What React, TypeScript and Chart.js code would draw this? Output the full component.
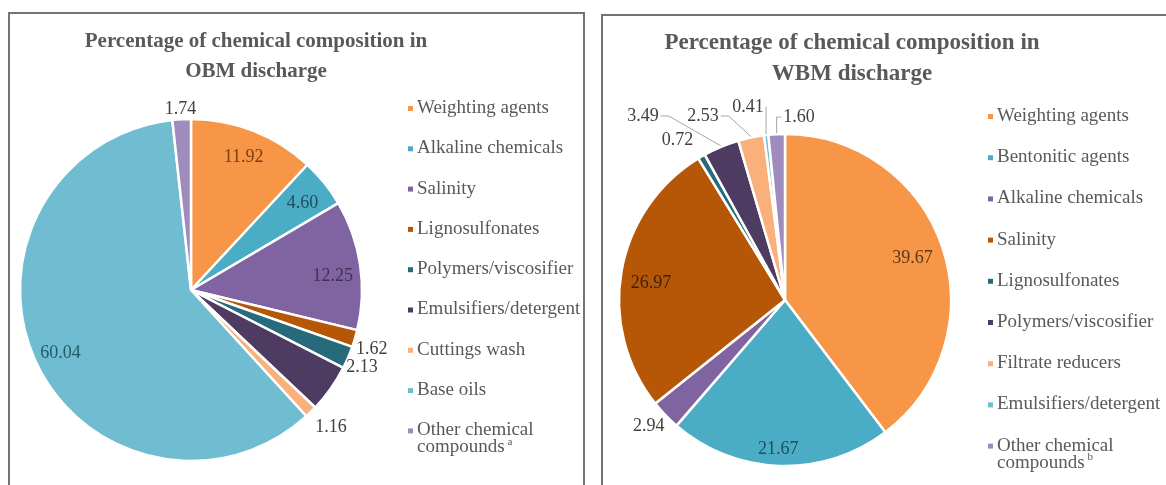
import React, { useEffect, useRef } from "react";
import { Chart, registerables } from "chart.js";

Chart.register(...registerables);

// ---------- data ----------
const obmCategories = [
  "Weighting agents",
  "Alkaline chemicals",
  "Salinity",
  "Lignosulfonates",
  "Polymers/viscosifier",
  "Emulsifiers/detergent",
  "Cuttings wash",
  "Base oils",
  "Other chemical compounds",
];
const obmValues = [11.92, 4.6, 12.25, 1.62, 2.13, 4.54, 1.16, 60.04, 1.74];
const obmFootnote = "a";
const obmTitle = ["Percentage of chemical composition in", "OBM discharge"];

const wbmCategories = [
  "Weighting agents",
  "Bentonitic agents",
  "Alkaline chemicals",
  "Salinity",
  "Lignosulfonates",
  "Polymers/viscosifier",
  "Filtrate reducers",
  "Emulsifiers/detergent",
  "Other chemical compounds",
];
const wbmValues = [39.67, 21.67, 2.94, 26.97, 0.72, 3.49, 2.53, 0.41, 1.6];
const wbmFootnote = "b";
const wbmTitle = ["Percentage of chemical composition in", "WBM discharge"];

// ---------- styles ----------
const palette = [
  "#F79646",
  "#4BACC6",
  "#8064A2",
  "#B65708",
  "#276A7C",
  "#4D3B62",
  "#F9B07A",
  "#70BCD1",
  "#9F8BBE",
];
const FONT = '"Liberation Serif", "Times New Roman", serif';
const LEGEND_SIZE = 19;

type Cfg = {
  categories: string[];
  values: number[];
  footnote: string;
  title: string[];
  radius: number;
  padding: { left: number; right: number; top: number; bottom: number };
  titleX: number;
  titleY: number;
  titleGap: number;
  titleSize: number;
  legendX: number;
  legendY: number;
  legendStep: number;
  legendWrap: number;
  labelMode: string[];
  labelRadius: number[];
  labelColor: string[];
  nudge: [number, number][];
  callout: ([number, number] | null)[];
};

const obmCfg: Cfg = {
  categories: obmCategories,
  values: obmValues,
  footnote: obmFootnote,
  title: obmTitle,
  radius: 171,
  padding: { left: 10, right: 221, top: 100, bottom: 19 },
  titleX: 246,
  titleY: 28,
  titleGap: 30,
  titleSize: 21,
  legendX: 407,
  legendY: 94,
  legendStep: 40.3,
  legendWrap: 172,
  labelMode: ["in", "in", "in", "out", "out", "none", "out", "in", "out"],
  labelRadius: [0.84, 0.83, 0.85, 0, 0, 0, 0, 0.85, 0],
  labelColor: ["#7A3F10", "#1F4E5C", "#3F3151", "#404040", "#404040", "#404040", "#404040", "#245B69", "#404040"],
  nudge: [[0, 1], [1, 2], [-2, 8], [-4, 7], [-6, 5], [0, 0], [5, 6], [2, 3], [0, 2]],
  callout: [null, null, null, null, null, null, null, null, null],
};

const wbmCfg: Cfg = {
  categories: wbmCategories,
  values: wbmValues,
  footnote: wbmFootnote,
  title: wbmTitle,
  radius: 166,
  padding: { left: 10, right: 210, top: 110, bottom: 11 },
  titleX: 248,
  titleY: 27,
  titleGap: 31,
  titleSize: 23,
  legendX: 393,
  legendY: 100,
  legendStep: 41.2,
  legendWrap: 168,
  labelMode: ["in", "in", "out", "in", "out", "callout", "callout", "callout", "callout"],
  labelRadius: [0.81, 0.885, 0, 0.82, 0, 0, 0, 0, 0],
  labelColor: ["#5A3A1E", "#1F4E5C", "#404040", "#3D2008", "#404040", "#404040", "#404040", "#404040", "#404040"],
  nudge: [[0, 1], [-2, 2], [-1, 3], [0, 7], [-13, -5], [0, 0], [0, 0], [0, 0], [0, 0]],
  callout: [null, null, null, null, null, [-142, -184], [-82, -184], [-37, -193], [14, -183]],
};

function wrapText(ctx: CanvasRenderingContext2D, text: string, maxW: number): string[] {
  const words = text.split(" ");
  const lines: string[] = [];
  let cur = "";
  for (const w of words) {
    const test = cur ? cur + " " + w : w;
    if (ctx.measureText(test).width > maxW && cur) {
      lines.push(cur);
      cur = w;
    } else cur = test;
  }
  if (cur) lines.push(cur);
  return lines;
}

function makePlugin(cfg: Cfg) {
  return {
    id: "panelDecor",
    afterDraw(chart: any) {
      const ctx: CanvasRenderingContext2D = chart.ctx;
      ctx.save();
      // title
      ctx.fillStyle = "#595959";
      ctx.font = `bold ${cfg.titleSize}px ${FONT}`;
      ctx.textAlign = "center";
      ctx.textBaseline = "middle";
      cfg.title.forEach((line, i) => {
        ctx.fillText(line, cfg.titleX, cfg.titleY + i * cfg.titleGap);
      });

      // legend
      ctx.font = `${LEGEND_SIZE}px ${FONT}`;
      ctx.textAlign = "left";
      ctx.textBaseline = "middle";
      cfg.categories.forEach((cat, i) => {
        const y = cfg.legendY + i * cfg.legendStep;
        ctx.fillStyle = palette[i];
        ctx.fillRect(cfg.legendX - 9, y - 2, 5, 5);
        ctx.fillStyle = "#595959";
        const lines = wrapText(ctx, cat, cfg.legendWrap);
        lines.forEach((ln, j) => {
          ctx.fillText(ln, cfg.legendX, y + j * 17);
        });
        if (i === cfg.categories.length - 1 && cfg.footnote) {
          const last = lines[lines.length - 1];
          const wLast = ctx.measureText(last).width;
          ctx.font = `11px ${FONT}`;
          ctx.fillText(cfg.footnote, cfg.legendX + wLast + 3, y + (lines.length - 1) * 17 - 5);
          ctx.font = `${LEGEND_SIZE}px ${FONT}`;
        }
      });

      // data labels
      const meta = chart.getDatasetMeta(0);
      ctx.font = `18px ${FONT}`;
      ctx.textAlign = "center";
      ctx.textBaseline = "middle";
      meta.data.forEach((el: any, i: number) => {
        const mode = cfg.labelMode[i];
        if (mode === "none") return;
        const p = el.getProps(["x", "y", "startAngle", "endAngle", "outerRadius"], true);
        const mid = (p.startAngle + p.endAngle) / 2;
        const dx = Math.cos(mid);
        const dy = Math.sin(mid);
        const text = cfg.values[i].toFixed(2);
        const w = ctx.measureText(text).width;
        const h = 13;
        let lx = 0;
        let ly = 0;
        if (mode === "in") {
          const r = p.outerRadius * cfg.labelRadius[i];
          lx = p.x + dx * r;
          ly = p.y + dy * r;
        } else if (mode === "out") {
          const r = p.outerRadius + 6;
          lx = p.x + dx * r + (dx * w) / 2;
          ly = p.y + dy * r + (dy * h) / 2;
        } else {
          const c = cfg.callout[i]!;
          lx = p.x + c[0];
          ly = p.y + c[1];
          const ax = p.x + dx * (p.outerRadius + 1);
          const ay = p.y + dy * (p.outerRadius + 1);
          ctx.strokeStyle = "#A6A6A6";
          ctx.lineWidth = 1;
          ctx.beginPath();
          if (ax > lx + w / 2) {
            const sx = lx + w / 2 + 2;
            const ex = Math.min(sx + 8, ax);
            ctx.moveTo(sx, ly);
            ctx.lineTo(ex, ly);
          } else {
            const sx = lx - w / 2 - 2;
            const ex = Math.max(sx - 8, ax);
            ctx.moveTo(sx, ly);
            ctx.lineTo(ex, ly);
          }
          ctx.lineTo(ax, ay);
          ctx.stroke();
        }
        const nd = cfg.nudge[i] || [0, 0];
        lx += nd[0];
        ly += nd[1];
        ctx.fillStyle = cfg.labelColor[i];
        ctx.fillText(text, lx, ly);
      });
      ctx.restore();
    },
  };
}

function PiePanel(props: { cfg: Cfg; left: number; top: number; width: number; height: number }) {
  const ref = useRef<HTMLCanvasElement>(null);
  const { cfg, left, top, width, height } = props;
  useEffect(() => {
    const chart = new Chart(ref.current!, {
      type: "pie",
      data: {
        labels: cfg.categories,
        datasets: [
          {
            data: cfg.values,
            backgroundColor: palette,
            borderColor: "#FFFFFF",
            borderWidth: 2.5,
            radius: cfg.radius,
          } as any,
        ],
      },
      options: {
        responsive: false,
        animation: false,
        devicePixelRatio: 1,
        layout: { padding: cfg.padding },
        plugins: {
          legend: { display: false },
          title: { display: false },
          tooltip: { enabled: false },
        },
      },
      plugins: [makePlugin(cfg)],
    });
    return () => chart.destroy();
  }, []);
  return (
    <canvas
      ref={ref}
      width={width}
      height={height}
      style={{ position: "absolute", left, top, width, height }}
    />
  );
}

export default function App() {
  return (
    <div
      style={{
        position: "fixed",
        left: 0,
        top: 0,
        width: 1166,
        height: 485,
        overflow: "hidden",
        background: "#FFFFFF",
      }}
    >
      <div
        style={{
          position: "absolute",
          left: 8,
          top: 12,
          width: 577,
          height: 520,
          boxSizing: "border-box",
          border: "2px solid #737373",
          background: "#FFFFFF",
        }}
      />
      <div
        style={{
          position: "absolute",
          left: 601,
          top: 14,
          width: 600,
          height: 520,
          boxSizing: "border-box",
          border: "2px solid #737373",
          background: "#FFFFFF",
        }}
      />
      <PiePanel cfg={obmCfg} left={10} top={14} width={573} height={471} />
      <PiePanel cfg={wbmCfg} left={604} top={16} width={562} height={469} />
    </div>
  );
}
